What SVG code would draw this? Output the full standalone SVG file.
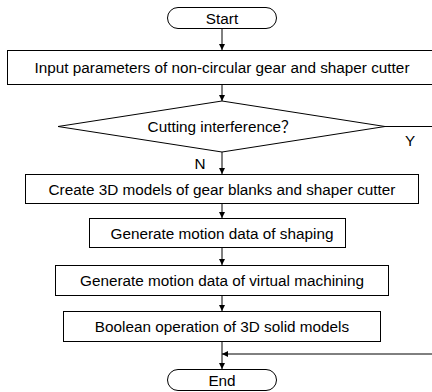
<svg xmlns="http://www.w3.org/2000/svg" width="432" height="392" viewBox="0 0 432 392">
<style>
.b{fill:#fff;stroke:#000;stroke-width:1}
.t{font-family:"Liberation Sans",Arial,"Noto Sans CJK SC",sans-serif;font-size:15.3px;fill:#000;text-anchor:middle}
.c{fill:none;stroke:#000;stroke-width:1}
</style>
<defs>
<marker id="a" viewBox="0 0 10 10" refX="10" refY="5" markerWidth="6" markerHeight="6" orient="auto" markerUnits="userSpaceOnUse">
<path d="M0,0 L10,5 L0,10 z" fill="#000"/>
</marker>
</defs>
<rect width="432" height="392" fill="#fff"/>
<g id="connectors">
<line class="c" x1="222" y1="28" x2="222" y2="50" marker-end="url(#a)"/>
<line class="c" x1="222" y1="84" x2="222" y2="101" marker-end="url(#a)"/>
<line class="c" x1="222" y1="152" x2="222" y2="174" marker-end="url(#a)"/>
<line class="c" x1="222" y1="203" x2="222" y2="218" marker-end="url(#a)"/>
<line class="c" x1="222" y1="247" x2="222" y2="265" marker-end="url(#a)"/>
<line class="c" x1="222" y1="295" x2="222" y2="311" marker-end="url(#a)"/>
<line class="c" x1="222" y1="341" x2="222" y2="369" marker-end="url(#a)"/>
<line class="c" x1="385" y1="126.5" x2="432" y2="126.5"/>
<line class="c" x1="432" y1="354" x2="222" y2="354" marker-end="url(#a)"/>
<text class="t" x="410" y="146">Y</text>
<text class="t" x="200" y="169">N</text>
</g>
<g id="start">
<rect class="b" x="167.5" y="7.5" width="109" height="21" rx="10.5"/>
<text class="t" x="222" y="24">Start</text>
</g>
<g id="input">
<rect class="b" x="7.5" y="50.5" width="430" height="34"/>
<text class="t" x="222" y="73">Input parameters of non-circular gear and shaper cutter</text>
</g>
<g id="decision">
<polygon class="b" points="222,101 385,126.5 222,152 58,126.5"/>
<text class="t" x="222" y="132">Cutting interference？</text>
</g>
<g id="create">
<rect class="b" x="25.5" y="174.5" width="393" height="29"/>
<text class="t" x="222" y="194.5">Create 3D models of gear blanks and shaper cutter</text>
</g>
<g id="shaping">
<rect class="b" x="89.5" y="218.5" width="256" height="29"/>
<text class="t" x="222" y="238.5">Generate motion data of shaping</text>
</g>
<g id="virtual">
<rect class="b" x="55.5" y="265.5" width="333" height="30"/>
<text class="t" x="222" y="286">Generate motion data of virtual machining</text>
</g>
<g id="boolean">
<rect class="b" x="63.5" y="311.5" width="317" height="30"/>
<text class="t" x="222" y="332">Boolean operation of 3D solid models</text>
</g>
<g id="end">
<rect class="b" x="167.5" y="369.5" width="109" height="21" rx="10.5"/>
<text class="t" x="222" y="386">End</text>
</g>
</svg>
